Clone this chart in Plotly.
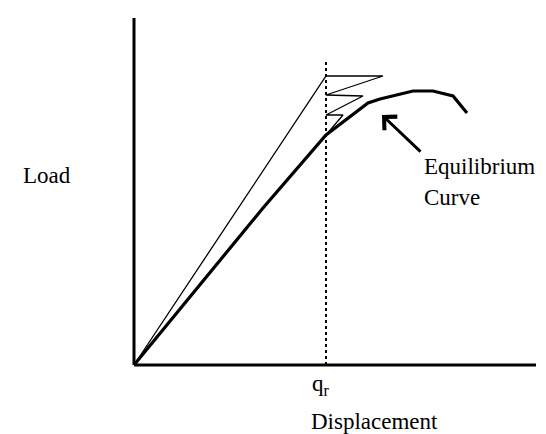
import plotly.graph_objects as go

# Equilibrium (thick) curve: displacement / load
equil_disp = [0.0, 12.9, 19.2, 23.4, 24.6, 27.9, 29.9, 31.9, 33.3]
equil_load = [0.0, 15.7, 23.0, 26.2, 26.6, 27.4, 27.4, 26.9, 25.2]

# Iteration path (thin zig-zag)
iter_disp = [0.0, 19.2, 24.9, 19.2, 22.9, 19.2, 20.9, 19.2]
iter_load = [0.0, 28.9, 28.9, 27.0, 26.9, 25.0, 25.0, 23.0]

q_r = 19.2
axis_x_end = 40.2
axis_y_end = 34.7
dotted_top = 30.4

x_label = "Displacement"
y_label = "Load"
q_label = "q<sub>r</sub>"
curve_label_1 = "Equilibrium"
curve_label_2 = "Curve"
arrow_tip = (24.8, 25.0)

FONT = "Liberation Serif"

fig = go.Figure()

fig.add_trace(go.Scatter(x=iter_disp, y=iter_load, mode="lines",
                         line=dict(color="black", width=1.3),
                         hoverinfo="skip", showlegend=False))
fig.add_trace(go.Scatter(x=equil_disp, y=equil_load, mode="lines",
                         line=dict(color="black", width=3.2),
                         hoverinfo="skip", showlegend=False))

# axes
fig.add_shape(type="line", x0=0, y0=0, x1=axis_x_end, y1=0,
              line=dict(color="black", width=3))
fig.add_shape(type="line", x0=0, y0=0, x1=0, y1=axis_y_end,
              line=dict(color="black", width=3))
# dotted q_r line
fig.add_shape(type="line", x0=q_r, y0=0, x1=q_r, y1=dotted_top,
              line=dict(color="black", width=2, dash="dot"))

txt = dict(family=FONT, size=23, color="black")
fig.add_annotation(x=-11.3, y=19.0, text=y_label, showarrow=False,
                   xanchor="left", yanchor="middle", font=txt)
fig.add_annotation(x=28.8, y=19.9, text=curve_label_1, showarrow=False,
                   xanchor="left", yanchor="middle", font=txt)
fig.add_annotation(x=28.8, y=16.8, text=curve_label_2, showarrow=False,
                   xanchor="left", yanchor="middle", font=txt)
fig.add_annotation(x=17.6, y=-2.0, text=q_label, showarrow=False,
                   xanchor="left", yanchor="middle", font=txt)
fig.add_annotation(x=17.6, y=-5.6, text=x_label, showarrow=False,
                   xanchor="left", yanchor="middle", font=txt, borderpad=0)

# arrow
fig.add_annotation(x=arrow_tip[0], y=arrow_tip[1], ax=40, ay=38,
                   axref="pixel", ayref="pixel", text="", showarrow=True,
                   arrowhead=4, arrowsize=1.2, arrowwidth=3, arrowcolor="black")

fig.update_layout(
    width=546, height=434,
    margin=dict(l=0, r=0, t=0, b=0),
    paper_bgcolor="white", plot_bgcolor="white",
    xaxis=dict(range=[-12.6, 42.0], visible=False, fixedrange=True),
    yaxis=dict(range=[-7.7, 35.7], visible=False, fixedrange=True),
    showlegend=False,
)

fig.write_html("out.html")
